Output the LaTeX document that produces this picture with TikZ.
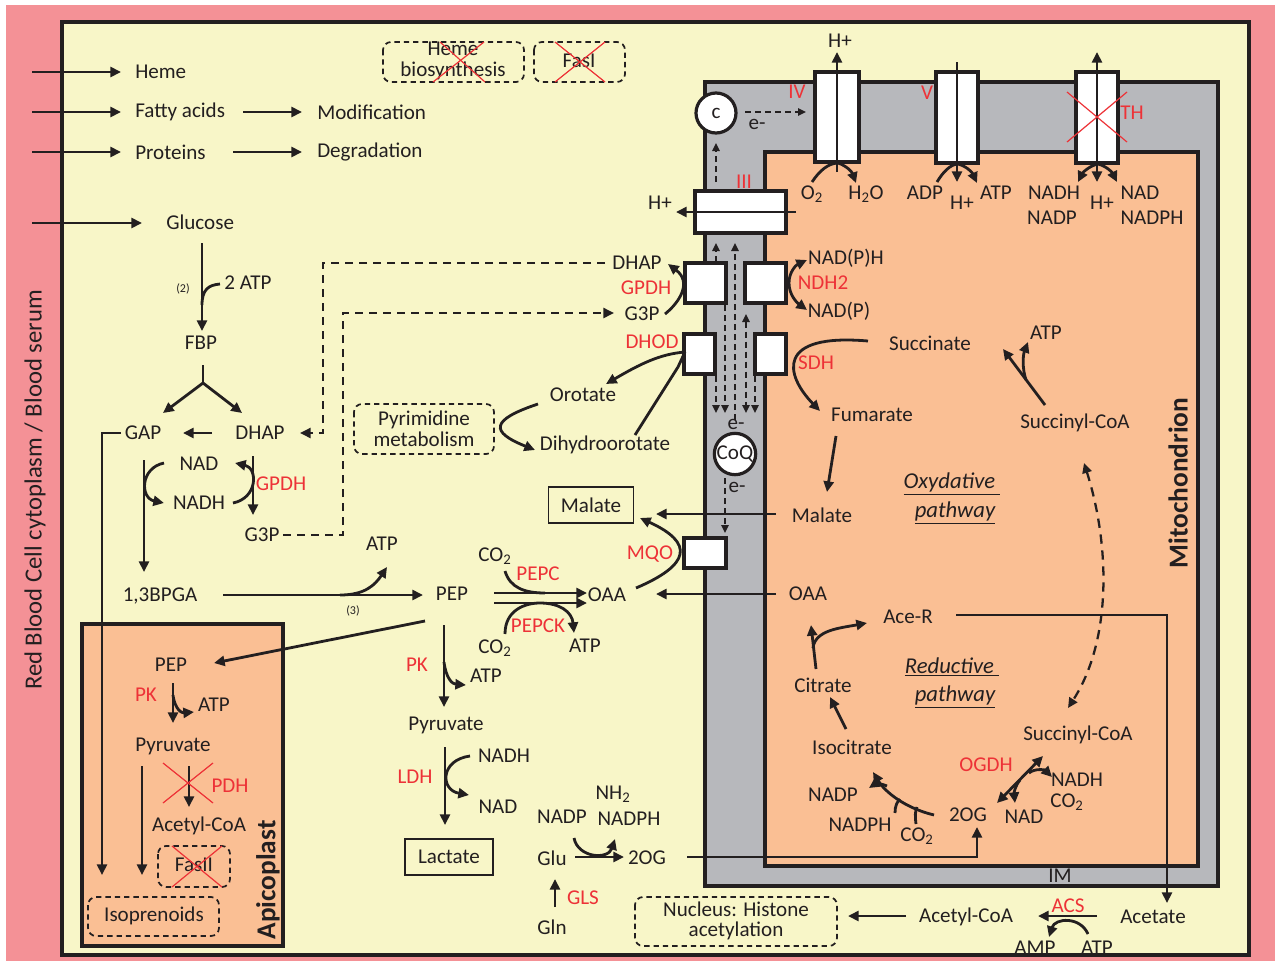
\documentclass[tikz,border=0pt]{standalone}
\usepackage{fontspec}
\setmainfont{Carlito}
\usetikzlibrary{arrows.meta}
\definecolor{pinkbg}{RGB}{244,145,150}
\definecolor{yel}{RGB}{248,246,200}
\definecolor{mgray}{RGB}{183,184,188}
\definecolor{orng}{RGB}{250,191,148}
\definecolor{rd}{RGB}{237,50,55}
\definecolor{dk}{RGB}{35,31,32}
\begin{document}
\begin{tikzpicture}[x=0.75pt,y=-0.75pt,
 every node/.style={font=\fontsize{15.8}{17}\selectfont, text=dk, inner sep=0pt},
 >={Triangle[length=8pt,width=7.5pt]},
 ar/.style={draw=dk, line width=2.1pt, ->},
 ln/.style={draw=dk, line width=2.1pt},
 dar/.style={draw=dk, line width=1.4pt, dash pattern=on 4.5pt off 3pt, -{Triangle[length=6pt,width=5.5pt]}},
 dln/.style={draw=dk, line width=1.8pt, dash pattern=on 6pt off 4.5pt},
 enz/.style={text=rd},
 dbox/.style={draw=dk, line width=1.3pt, dash pattern=on 4pt off 3pt, rounded corners=6pt},
 mbox/.style={draw=dk, line width=2.4pt, fill=white},
 cross/.style={draw=rd, line width=0.9pt},
 small/.style={font=\fontsize{9}{10}\selectfont},
 big/.style={font=\fontsize{20.5}{22}\selectfont\bfseries},
 ital/.style={font=\fontsize{17}{18}\selectfont\itshape},
 two/.style={align=center, font=\fontsize{15.8}{15.5}\selectfont}
]
\useasboundingbox (0,0) rectangle (1275,961);
\fill[white] (0,0) rectangle (1275,961);
\fill[pinkbg] (6,5) rectangle (1275,961);
\draw[fill=yel,line width=2.5pt,draw=dk] (62,22) rectangle (1249,955);
\draw[fill=mgray,line width=2.5pt,draw=dk] (705,82) rectangle (1218,886);
\draw[fill=orng,line width=2.5pt,draw=dk] (765,152) rectangle (1198,866);
\draw[fill=orng,line width=2.5pt,draw=dk] (82,624) rectangle (283,946);

% left label
\node[rotate=90, font=\fontsize{18.5}{20}\selectfont] (rbc) at (35,490) {Red Blood Cell cytoplasm / Blood serum};

% top-left imports
\node[anchor=west] (heme) at (135,72) {Heme};
\node[anchor=west] (fa) at (135,112) {Fatty acids};
\node[anchor=west] (prot) at (135,152) {Proteins};
\node[anchor=west] (modif) at (317,112) {Modification};
\node[anchor=west] (degr) at (317,152) {Degradation};
\node[anchor=west] (glc) at (166,222) {Glucose};
\draw[ar] (32,72) -- (121,72);
\draw[ar] (32,112) -- (121,112);
\draw[ar] (32,152) -- (121,152);
\draw[ar] (243,112) -- (302,112);
\draw[ar] (233,152) -- (302,152);
\draw[ar] (32,223) -- (142,223);

% top dashed boxes
\draw[dbox] (383,42) rectangle (524,82);
\node[two] (hemebio) at (453,61) {Heme\\biosynthesis};
\draw[cross] (433,82) -- (484,42) (440,42) -- (485,82);
\draw[dbox] (534,42) rectangle (625,82);
\node (fasi) at (579,61) {FasI};
\draw[cross] (555,42) -- (605,82) (555,82) -- (605,42);

% glycolysis
\node (fbp) at (201,343) {FBP};
\draw[ar] (202,243) -- (202,331);
\draw[ln] (202,305) .. controls (202,290) and (208,285) .. (220,284);
\node (atp2) at (248,283) {2 ATP};
\node[small] (n2) at (183,289) {(2)};
\draw[ln] (203,365) -- (203,383);
\draw[ar] (203,383) -- (163,413);
\draw[ar] (203,383) -- (242,413);
\node (gap) at (143,433) {GAP};
\node (dhap) at (260,433) {DHAP};
\draw[ar] (212,433) -- (183,433);
\draw[dln,->] (605,263) -- (323,263) -- (323,433) -- (300,433);
\node (g3p) at (262,535) {G3P};
\draw[dln,->] (283,535) -- (343,535) -- (343,313) -- (614,313);
\node (nad1) at (199,464) {NAD};
\node (nadh1) at (199,503) {NADH};
\draw[ar] (144,460) -- (144,572);
\draw[ar] (164,463) .. controls (140,468) and (140,498) .. (164,503);
\draw[ar] (253,456) -- (253,515);
\draw[ar] (233,503) .. controls (258,498) and (258,468) .. (235,463);
\node[enz] (gpdh1) at (281,484) {GPDH};
\draw[ar] (121,433) -- (102,433) -- (102,875);
\node (bpga) at (160,596) {1,3BPGA};
\draw[ar] (223,595) -- (423,595);
\draw[ar] (340,595) .. controls (365,595) and (375,585) .. (387,567);
\node (atp3) at (382,544) {ATP};
\node[small] (n3) at (353,611) {(3)};

% cytosol PEP
\node (pep) at (452,594) {PEP};
\node (oaac) at (607,595) {OAA};
\draw[ar] (494,593) -- (587,593);
\draw[ar] (494,603) -- (587,603);
\node (co2a) at (495,556) {CO\textsubscript{2}};
\node[enz] (pepc) at (538,574) {PEPC};
\draw[ln] (505,571) .. controls (510,588) and (525,593) .. (545,593);
\node (co2b) at (495,648) {CO\textsubscript{2}};
\node[enz] (pepck) at (538,626) {PEPCK};
\draw[ar] (505,634) .. controls (505,610) and (525,603) .. (540,603) .. controls (560,603) and (572,612) .. (574,633);
\node (atp4) at (585,646) {ATP};
\node[enz] (pk1) at (417,665) {PK};
\draw[ar] (444,625) -- (444,707);
\draw[ar] (444,662) .. controls (446,678) and (452,684) .. (466,685);
\node (atp5) at (486,676) {ATP};
\node (pyr) at (446,725) {Pyruvate};
\draw[ar] (445,747) -- (445,825);
\draw[ar] (470,756) .. controls (440,760) and (440,790) .. (469,795);
\node (nadh2) at (504,756) {NADH};
\node (nad2) at (498,807) {NAD};
\node[enz] (ldh) at (415,777) {LDH};
\node[draw=dk, line width=0.8pt, minimum width=66pt, minimum height=27pt] (lact) at (449,857) {Lactate};
\draw[ar] (425,621) -- (214,663);

% glutamine
\node (glu) at (552,858) {Glu};
\node (og1) at (647,858) {2OG};
\node (gln) at (552,927) {Gln};
\node[enz] (gls) at (583,898) {GLS};
\draw[ar] (555,907) -- (555,879);
\draw[ar] (575,857) -- (624,857);
\draw[ar] (574,838) .. controls (578,858) and (608,860) .. (615,839);
\node (nadp1) at (562,817) {NADP};
\node (nh2) at (613,794) {NH\textsubscript{2}};
\node (nadph1) at (629,819) {NADPH};
\draw[ar] (687,857) -- (977,857) -- (977,827);

% pyrimidine
\draw[dbox] (354,404) rectangle (494,454);
\node[two] (pyrim) at (424,429) {Pyrimidine\\metabolism};
\node (orot) at (583,395) {Orotate};
\node (dhor) at (605,445) {Dihydroorotate};
\draw[ar] (538,404) .. controls (490,420) and (490,432) .. (535,450);

% malate box
\node[draw=dk, line width=0.8pt, minimum width=64pt, minimum height=27pt] (malc) at (591,505) {Malate};

% apicoplast
\node[big, rotate=90] (api) at (268,880) {Apicoplast};
\node (pepa) at (171,665) {PEP};
\node[enz] (pka) at (146,695) {PK};
\draw[ar] (173,683) -- (173,723);
\draw[ar] (173,695) .. controls (175,710) and (182,713) .. (194,712);
\node (atpa) at (214,705) {ATP};
\node (pyra) at (173,746) {Pyruvate};
\draw[ar] (189,766) -- (189,807);
\draw[cross] (163,763) -- (213,803) (163,803) -- (213,763);
\node[enz] (pdh) at (230,786) {PDH};
\node (acoa1) at (199,826) {Acetyl-CoA};
\draw[dbox] (158,846) rectangle (230,887);
\node (fasii) at (194,865) {FasII};
\draw[cross] (172,846) -- (222,887) (172,887) -- (222,846);
\draw[ar] (142,766) -- (142,875);
\draw[dbox] (88,897) rectangle (219,936);
\node (iso) at (154,916) {Isoprenoids};

% ===== mitochondrion =====
% complex IV
\draw[mbox] (815,72) rectangle (859,162);
\draw[ar] (837,172) -- (837,52);
\node (hp1) at (840,41) {H+};
\node[enz] (civ) at (797,92) {IV};
\draw[ln] (812,182) .. controls (820,170) and (828,164) .. (837,163);
\draw[ar] (838,163) .. controls (847,166) and (852,172) .. (856,183);
\node (o2) at (812,194) {O\textsubscript{2}};
\node (h2o) at (866,194) {H\textsubscript{2}O};
% complex V
\draw[mbox] (936,72) rectangle (978,163);
\draw[ar] (957,62) -- (957,182);
\draw[ln] (937,182) .. controls (943,172) and (950,165) .. (957,164);
\draw[ar] (958,164) .. controls (966,166) and (972,172) .. (977,183);
\node[enz] (cv) at (927,93) {V};
\node (adp) at (925,193) {ADP};
\node (hp2) at (962,203) {H+};
\node (atpv) at (996,193) {ATP};
% TH
\draw[mbox] (1076,72) rectangle (1118,163);
\draw[ar,<->] (1097,52) -- (1097,182);
\draw[ar] (1097,164) .. controls (1090,166) and (1083,172) .. (1078,182);
\draw[ar] (1098,164) .. controls (1106,166) and (1112,172) .. (1117,182);
\draw[cross] (1067,92) -- (1127,142) (1067,142) -- (1127,92);
\node[enz] (th) at (1132,113) {TH};
\node (nadhT) at (1054,193) {NADH};
\node (nadpT) at (1052,218) {NADP};
\node (hp3) at (1102,203) {H+};
\node (nadT) at (1140,193) {NAD};
\node (nadphT) at (1152,218) {NADPH};
% cytochrome c
\node[circle,draw=dk,line width=2.4pt,fill=white,minimum size=30pt] (cytc) at (716,113) {c};
\draw[dar] (745,112) -- (806,112);
\node (em1) at (757,124) {e-};
\draw[dar] (716,182) -- (716,143);
% complex III
\draw[mbox] (695,191) rectangle (786,233);
\draw[ar] (796,212) -- (676,212);
\node (hp4) at (660,203) {H+};
\node[enz] (ciii) at (744,182) {III};
% boxes
\draw[mbox] (685,263) rectangle (726,303);
\draw[mbox] (745,263) rectangle (786,303);
\draw[mbox] (684,334) rectangle (715,374);
\draw[mbox] (755,334) rectangle (786,374);
\draw[mbox] (684,538) rectangle (726,568);
% channel dashed arrows
\draw[dar] (716,262) -- (716,243);
\draw[dar] (735,420) -- (735,243);
\draw[dar] (725,305) -- (725,413);
\draw[dar] (716,376) -- (716,413);
\draw[dar,{Triangle[length=6pt,width=5.5pt]}-{Triangle[length=6pt,width=5.5pt]}] (746,314) -- (746,413);
\draw[dar] (755,376) -- (755,413);
\node (em2) at (736,424) {e-};
\node[circle,draw=dk,line width=2.4pt,fill=white,minimum size=31pt] (coq) at (735,454) {CoQ};
\node (em3) at (737,487) {e-};
\draw[dar] (725,478) -- (725,533);
% GPDH mito
\node (dhapm) at (637,263) {DHAP};
\node[enz] (gpdh2) at (646,288) {GPDH};
\node (g3pm) at (642,314) {G3P};
\draw[ar] (665,314) .. controls (680,302) and (692,282) .. (668,264);
% NDH2
\draw[ar] (789,283) .. controls (789,272) and (796,265) .. (807,260);
\draw[ar] (789,283) .. controls (789,294) and (796,302) .. (807,310);
\node (nadph2) at (846,258) {NAD(P)H};
\node[enz] (ndh2) at (823,283) {NDH2};
\node (nadp2) at (839,311) {NAD(P)};
% DHOD
\node[enz] (dhod) at (652,342) {DHOD};
\draw[ar] (685,352) .. controls (660,354) and (640,364) .. (606,384);
\draw[ln] (635,435) -- (678,367) .. controls (682,360) .. (685,352);
% SDH
\node[enz] (sdh) at (816,363) {SDH};
\node (succ) at (930,343) {Succinate};
\node (fum) at (872,415) {Fumarate};
\draw[ar] (868,341) .. controls (775,333) and (785,375) .. (820,411);
\draw[ar] (836,436) -- (827,492);
\node (malm) at (822,515) {Malate};
\draw[ar] (776,514) -- (656,514);
\node (oaam) at (808,594) {OAA};
\draw[ar] (776,594) -- (656,594);
% MQO
\node[enz] (mqo) at (650,554) {MQO};
\draw[ar] (636,588) .. controls (690,565) and (695,543) .. (640,518);
% TCA oxidative
\node (sucoa1) at (1075,423) {Succinyl-CoA};
\draw[ar] (1045,405) -- (1003,349);
\draw[ar] (1026,380) .. controls (1022,368) and (1023,355) .. (1028,342);
\node (atpm) at (1046,333) {ATP};
\node[ital] (ox1) at (952,484) {\underline{Oxydative\ }};
\node[ital] (ox2) at (955,513) {\underline{pathway}};
\node[big, rotate=90] (mito) at (1178,483) {Mitochondrion};
\draw[dar,line width=1.7pt,dash pattern=on 7pt off 5pt,{Triangle[length=7.5pt,width=7pt]}-{Triangle[length=7.5pt,width=7pt]}] (1084,463) .. controls (1110,545) and (1112,640) .. (1068,708);
% Ace-R
\node (acer) at (908,617) {Ace-R};
\draw[ar] (956,615) -- (1167,615) -- (1167,903);
\node (citr) at (823,685) {Citrate};
\draw[ar] (816,669) -- (811,625);
\draw[ar] (813,648) .. controls (815,630) and (840,628) .. (867,623);
\node[ital] (red1) at (952,667) {\underline{Reductive\ }};
\node[ital] (red2) at (955,697) {\underline{pathway}};
\node (isoc) at (852,747) {Isocitrate};
\draw[ar] (846,729) -- (830,697);
\node (og2) at (968,815) {2OG};
\draw[ar] (934,815) .. controls (905,808) and (885,792) .. (873,772);
\draw[ar] (887,786) .. controls (880,783) and (875,784) .. (869,788);
\draw[ln] (895,813) .. controls (895,806) and (897,802) .. (900,799);
\draw[ln] (916,824) .. controls (915,816) and (915,812) .. (917,807);
\node (nadp3) at (833,795) {NADP};
\node (nadph3) at (860,825) {NADPH};
\node (co2c) at (917,836) {CO\textsubscript{2}};
\node[enz] (ogdh) at (986,765) {OGDH};
\node (sucoa2) at (1078,735) {Succinyl-CoA};
\draw[ar,<->] (997,803) -- (1043,756);
\draw[ar] (1029,773) .. controls (1035,768) and (1045,770) .. (1052,777);
\draw[ar] (1020,780) .. controls (1015,786) and (1014,793) .. (1015,803);
\node (nadh3) at (1077,780) {NADH};
\node (co2d) at (1067,802) {CO\textsubscript{2}};
\node (nad3) at (1024,817) {NAD};
\node (im) at (1060,876) {IM};
% acetate
\node (acet) at (1153,917) {Acetate};
\node (acoa2) at (966,917) {Acetyl-CoA};
\node[enz] (acs) at (1068,906) {ACS};
\draw[ar] (1097,916) -- (1038,916);
\draw[ar] (1088,934) .. controls (1080,916) and (1055,918) .. (1049,937);
\node (amp) at (1035,948) {AMP};
\node (atpac) at (1097,948) {ATP};
\draw[ar] (906,916) -- (848,916);
\draw[dbox] (635,897) rectangle (837,946);
\node[two] (nucl) at (736,921) {Nucleus: Histone\\acetylation};
\end{tikzpicture}
\end{document}
